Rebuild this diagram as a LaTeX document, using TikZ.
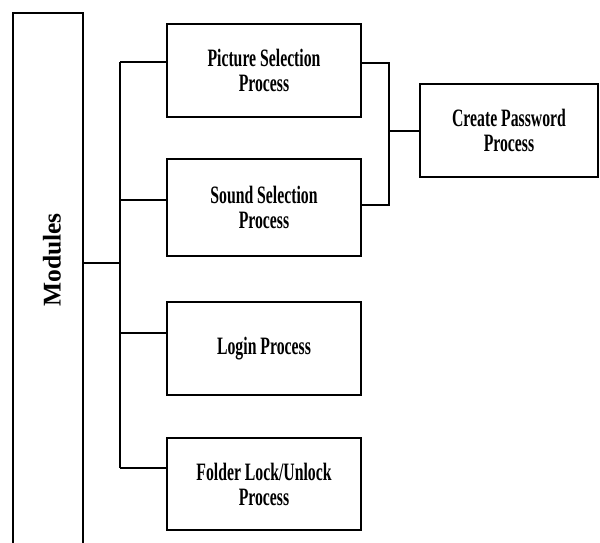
\documentclass[tikz,border=0pt]{standalone}
\usepackage{fontspec}
\setmainfont[FakeStretch=0.63]{Liberation Serif}
\newfontfamily\modfont{Liberation Serif}
\usetikzlibrary{calc}
\begin{document}
\begin{tikzpicture}[x=1pt,y=-1pt,
  procbox/.style={draw=black,line width=2pt,rectangle,minimum width=194pt,minimum height=93pt,inner sep=0pt,align=center,
    font=\fontsize{25}{25}\selectfont\bfseries},
  conn/.style={draw=black,line width=1.1pt}]
\useasboundingbox (0,0) rectangle (600,542);
\clip (0,0) rectangle (600,542);
\fill[white] (0,0) rectangle (600,542);
% Modules column (runs off the bottom edge)
\node[draw=black,line width=1.8pt,rectangle,minimum width=70pt,minimum height=547pt,inner sep=0pt] (mod) at (48,286.5) {};
\node[rotate=90,font=\modfont\fontsize{25.5}{30}\selectfont\bfseries] (modlabel) at (52,260) {Modules};
% process boxes
\node[procbox] (pic) at (264,70.5) {Picture Selection\\Process};
\node[procbox,minimum height=97pt] (snd) at (264,207.5) {Sound Selection\\Process};
\node[procbox] (log) at (264,348.5) {Login Process};
\node[procbox,minimum height=92pt] (fold) at (264,484) {Folder Lock/Unlock\\Process};
\node[procbox,minimum width=178pt] (cp) at (509,130.5) {Create Password\\Process};
% left tree
\coordinate (ttop) at (120,62);
\coordinate (tbot) at (120,468);
\coordinate (tmod) at (120,263);
\coordinate (tsnd) at (120,200);
\coordinate (tlog) at (120,333);
\draw[conn] (ttop) -- (tbot);
\draw[conn] (tmod -| mod.east) -- (tmod);
\draw[conn] (ttop) -- (ttop -| pic.west);
\draw[conn] (tsnd) -- (tsnd -| snd.west);
\draw[conn] (tlog) -- (tlog -| log.west);
\draw[conn] (tbot) -- (tbot -| fold.west);
% right join
\coordinate (rtop) at (389,63);
\coordinate (rbot) at (389,205);
\coordinate (rmid) at (389,131);
\draw[conn] (rtop -| pic.east) -- (rtop) -- (rbot) -- (rbot -| snd.east);
\draw[conn] (rmid) -- (rmid -| cp.west);
\end{tikzpicture}
\end{document}
